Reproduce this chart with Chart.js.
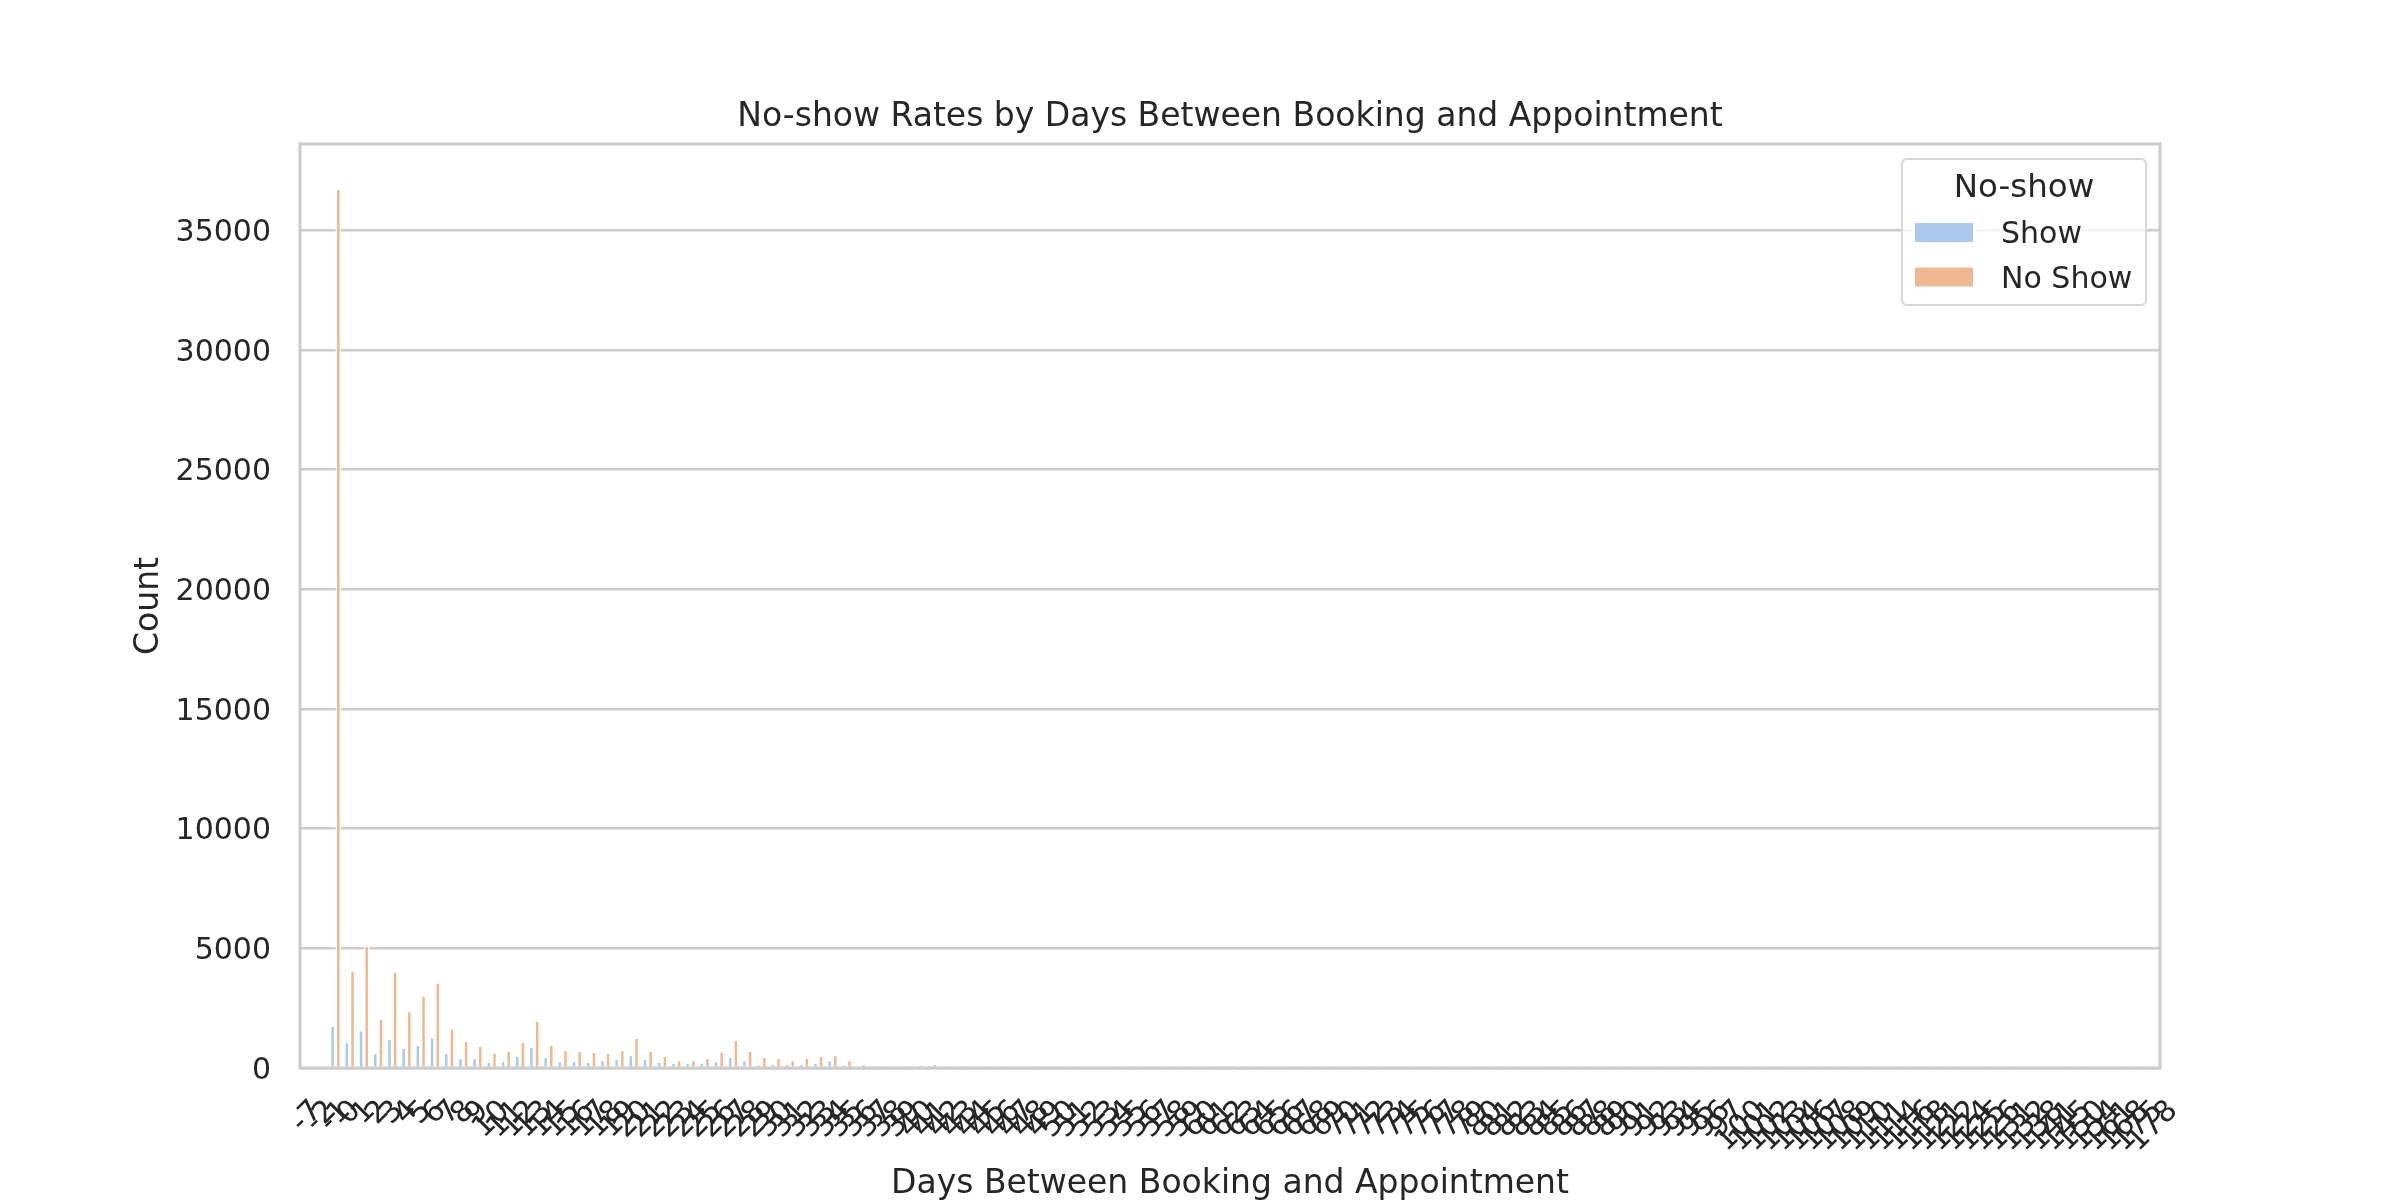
<!DOCTYPE html>
<html>
<head>
<meta charset="utf-8">
<script src="https://cdn.jsdelivr.net/npm/chart.js@4.4.1/dist/chart.umd.min.js"></script>
<style>
  html, body { margin: 0; padding: 0; background: #ffffff; }
  #wrap { width: 2400px; height: 1200px; }
</style>
</head>
<body>
<div id="wrap"><canvas id="c" width="2400" height="1200"></canvas></div>
<script>
// ---- data ----
const days = [-7, -2, -1, 0, 1, 2, 3, 4, 5, 6, 7, 8, 9, 10, 11, 12, 13, 14, 15, 16, 17, 18, 19, 20,
  21, 22, 23, 24, 25, 26, 27, 28, 29, 30, 31, 32, 33, 34, 35, 36, 37, 38, 39, 40, 41, 42, 43, 44,
  45, 46, 47, 48, 49, 50, 51, 52, 53, 54, 55, 56, 57, 58, 59, 60, 61, 62, 63, 64, 65, 66, 67, 68,
  69, 70, 71, 72, 73, 74, 75, 76, 77, 78, 79, 80, 81, 82, 83, 84, 85, 86, 87, 88, 89, 90, 91, 92,
  93, 94, 95, 96, 97, 100, 101, 102, 103, 104, 106, 107, 108, 109, 110, 111, 114, 116, 118, 121,
  122, 124, 125, 126, 131, 132, 138, 141, 145, 150, 154, 161, 168, 175, 178];

const showCounts = [
  1, 4, 1792, 1113, 1602, 644, 1231, 872, 1000, 1309,
  650, 440, 440, 280, 320, 530, 910, 490, 320, 320,
  280, 360, 410, 570, 410, 280, 240, 240, 240, 320,
  490, 360, 150, 200, 200, 200, 240, 360, 150, 40,
  30, 25, 40, 45, 105, 35, 20, 15, 12, 10,
  14, 18, 20, 10, 8, 9, 7, 12, 30, 12,
  8, 6, 7, 9, 30, 35, 10, 12, 14, 6,
  5, 7, 8, 6, 5, 4, 5, 3, 4, 6,
  5, 3, 2, 3, 2, 4, 5, 3, 2, 2,
  1, 2, 3, 2, 1, 1, 2, 1, 1, 2, 2,
  1, 1, 2, 1, 0, 1, 1, 0, 1, 1,
  0, 1, 0, 1, 0, 1, 0, 1, 0, 1,
  0, 1, 0, 1, 0, 1, 0, 1, 1, 0];

const noShowCounts = [
  0, 0, 36770, 4100, 5123, 2093, 4059, 2405, 3037, 3597,
  1680, 1165, 950, 660, 740, 1120, 2000, 990, 780, 740,
  700, 660, 780, 1290, 740, 530, 360, 360, 450, 700,
  1200, 740, 490, 450, 360, 450, 530, 570, 360, 170,
  70, 65, 115, 160, 200, 115, 70, 50, 40, 35,
  45, 70, 68, 30, 28, 30, 25, 38, 115, 40,
  22, 20, 24, 30, 110, 120, 30, 62, 60, 18,
  15, 20, 26, 22, 18, 14, 12, 10, 14, 18,
  16, 10, 8, 9, 7, 12, 15, 10, 6, 5,
  6, 7, 9, 8, 5, 4, 5, 4, 3, 6, 5,
  4, 3, 5, 6, 2, 3, 4, 2, 3, 5,
  2, 2, 1, 2, 2, 3, 1, 2, 3, 2,
  2, 4, 3, 2, 2, 3, 2, 4, 3, 6];

const yTickValues = [0, 5000, 10000, 15000, 20000, 25000, 30000, 35000];
const seriesLabels = ['Show', 'No Show'];
const legendTitle = 'No-show';
const chartTitle = 'No-show Rates by Days Between Booking and Appointment';
const xTitle = 'Days Between Booking and Appointment';
const yTitle = 'Count';

// ---- styles ----
const FONT = "'DejaVu Sans', 'Liberation Sans', sans-serif";
const TEXT = '#262626';
const GRID = '#cccccc';
const COLORS = ['#abc9ea', '#efb792'];

const framePlugin = {
  id: 'frame',
  afterDatasetsDraw(chart) {
    const { ctx, chartArea: a } = chart;
    ctx.save();
    ctx.strokeStyle = GRID;
    ctx.lineWidth = 3;
    ctx.strokeRect(a.left, a.top, a.right - a.left, a.bottom - a.top);
    ctx.restore();
  }
};

// centre each rotated x tick label on its tick (bounding box top at a fixed gap below the axis)
const centredTickLabels = {
  id: 'centredTickLabels',
  beforeDraw(chart) {
    const s = chart.scales.x;
    const items = s.getLabelItems(chart.chartArea);
    const ctx = chart.ctx;
    items.forEach((it, i) => {
      ctx.save();
      ctx.font = it.font.string;
      const w = ctx.measureText(String(it.label)).width;
      ctx.restore();
      const hgt = it.font.size * 1.164;
      const half = (w + hgt) * Math.SQRT1_2 / 2;
      it.options.translation = [s.getPixelForTick(i), s.top + 26 + half];
      it.options.textAlign = 'center';
      it.options.textBaseline = 'middle';
      it.textOffset = 0;
    });
  }
};

const boxLegendPlugin = {
  id: 'boxLegend',
  afterDraw(chart) {
    const { ctx, chartArea: a } = chart;
    const w = 244, h = 146;
    const x0 = a.right - 14 - w, y0 = a.top + 15;
    ctx.save();
    ctx.beginPath();
    ctx.roundRect(x0, y0, w, h, 5);
    ctx.fillStyle = 'rgba(255,255,255,0.8)';
    ctx.fill();
    ctx.strokeStyle = '#d6d6d6';
    ctx.lineWidth = 2;
    ctx.stroke();
    ctx.fillStyle = TEXT;
    ctx.textBaseline = 'middle';
    ctx.textAlign = 'center';
    ctx.font = "32.5px " + FONT;
    ctx.fillText(legendTitle, x0 + w / 2, y0 + 30);
    ctx.textAlign = 'left';
    ctx.font = "30px " + FONT;
    chart.data.datasets.forEach((ds, i) => {
      const ry = y0 + 64 + i * 44.5;
      ctx.fillStyle = ds.backgroundColor;
      ctx.fillRect(x0 + 13, ry, 58, 19);
      ctx.fillStyle = TEXT;
      ctx.fillText(ds.label, x0 + 99, ry + 12.5);
    });
    ctx.restore();
  }
};

const barStyle = {
  borderColor: '#ffffff',
  borderWidth: { top: 1.8, left: 1.6, right: 1.6, bottom: 0 },
  categoryPercentage: 0.8,
  barPercentage: 1.0
};

new Chart(document.getElementById('c'), {
  type: 'bar',
  data: {
    labels: days.map(String),
    datasets: [
      Object.assign({ label: seriesLabels[0], data: showCounts, backgroundColor: COLORS[0] }, barStyle),
      Object.assign({ label: seriesLabels[1], data: noShowCounts, backgroundColor: COLORS[1] }, barStyle)
    ]
  },
  options: {
    responsive: false,
    animation: false,
    devicePixelRatio: 1,
    layout: { padding: { left: 0, right: 240, top: 0, bottom: 0 } },
    plugins: {
      legend: { display: false },
      tooltip: { enabled: false },
      title: {
        display: true,
        text: chartTitle,
        fullSize: false,
        color: TEXT,
        font: { family: FONT, size: 33, weight: 'normal', lineHeight: 1.2 },
        padding: { top: 98, bottom: 6.4 }
      }
    },
    scales: {
      x: {
        grid: { display: false, drawTicks: false },
        border: { display: false },
        ticks: {
          autoSkip: false,
          minRotation: 45,
          maxRotation: 45,
          padding: 25,
          color: TEXT,
          font: { family: FONT, size: 30, lineHeight: 1.2 }
        },
        title: {
          display: true,
          text: xTitle,
          color: TEXT,
          font: { family: FONT, size: 33, lineHeight: 0.95 },
          padding: { top: 0, bottom: 0 }
        },
        afterFit(scale) { scale.height = 132; }
      },
      y: {
        min: 0,
        max: Math.max(...noShowCounts, ...showCounts) * 1.05,
        grid: { color: GRID, lineWidth: 2.6, drawTicks: false },
        border: { display: false },
        ticks: {
          padding: 29,
          labelOffset: 3,
          color: TEXT,
          font: { family: FONT, size: 30, lineHeight: 1.2 },
          callback: (v) => String(v)
        },
        afterBuildTicks(scale) {
          scale.ticks = yTickValues.map((v) => ({ value: v }));
        },
        title: {
          display: true,
          text: yTitle,
          color: TEXT,
          font: { family: FONT, size: 33, lineHeight: 1.2 },
          padding: { top: 130, bottom: 0 }
        },
        afterFit(scale) { scale.width = 300; }
      }
    }
  },
  plugins: [framePlugin, centredTickLabels, boxLegendPlugin]
});
</script>
</body>
</html>
